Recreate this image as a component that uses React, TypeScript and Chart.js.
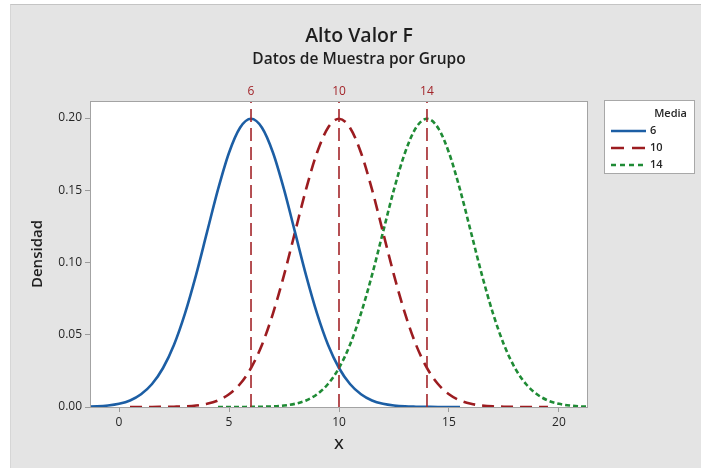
import React, { useEffect, useRef } from "react";
import { Chart, registerables } from "chart.js";

Chart.register(...registerables);

// ---------- data ----------
const chartTitle = "Alto Valor F";
const chartSubtitle = "Datos de Muestra por Grupo";
const xAxisTitle = "X";
const yAxisTitle = "Densidad";
const legendTitle = "Media";
const seriesLabels = ["6", "10", "14"];

const blueX = [-1.5, -1, -0.5, 0, 0.5, 1, 1.5, 2, 2.5, 3, 3.5, 4, 4.5, 5, 5.5, 6, 6.5, 7, 7.5, 8, 8.5, 9, 9.5, 10, 10.5, 11, 11.5, 12, 12.5, 13, 13.5, 14, 14.5, 15, 15.5];
const blueY = [0.0002, 0.0004, 0.001, 0.0022, 0.0045, 0.0088, 0.0159, 0.027, 0.0431, 0.0648, 0.0913, 0.121, 0.1506, 0.176, 0.1933, 0.1995, 0.1933, 0.176, 0.1506, 0.121, 0.0913, 0.0648, 0.0431, 0.027, 0.0159, 0.0088, 0.0045, 0.0022, 0.001, 0.0004, 0.0002, 0.0001, 0, 0, 0];

const redX = [0.5, 1, 1.5, 2, 2.5, 3, 3.5, 4, 4.5, 5, 5.5, 6, 6.5, 7, 7.5, 8, 8.5, 9, 9.5, 10, 10.5, 11, 11.5, 12, 12.5, 13, 13.5, 14, 14.5, 15, 15.5, 16, 16.5, 17, 17.5, 18, 18.5, 19, 19.5];
const redY = [0, 0, 0, 0.0001, 0.0002, 0.0004, 0.001, 0.0022, 0.0045, 0.0088, 0.0159, 0.027, 0.0431, 0.0648, 0.0913, 0.121, 0.1506, 0.176, 0.1933, 0.1995, 0.1933, 0.176, 0.1506, 0.121, 0.0913, 0.0648, 0.0431, 0.027, 0.0159, 0.0088, 0.0045, 0.0022, 0.001, 0.0004, 0.0002, 0.0001, 0, 0, 0];

const greenX = [4.5, 5, 5.5, 6, 6.5, 7, 7.5, 8, 8.5, 9, 9.5, 10, 10.5, 11, 11.5, 12, 12.5, 13, 13.5, 14, 14.5, 15, 15.5, 16, 16.5, 17, 17.5, 18, 18.5, 19, 19.5, 20, 20.5, 21, 21.5];
const greenY = [0, 0, 0, 0.0001, 0.0002, 0.0004, 0.001, 0.0022, 0.0045, 0.0088, 0.0159, 0.027, 0.0431, 0.0648, 0.0913, 0.121, 0.1506, 0.176, 0.1933, 0.1995, 0.1933, 0.176, 0.1506, 0.121, 0.0913, 0.0648, 0.0431, 0.027, 0.0159, 0.0088, 0.0045, 0.0022, 0.001, 0.0004, 0.0002];

const refLines = [6, 10, 14];
const xTicks = [0, 5, 10, 15, 20];
const yTicks = [0, 0.05, 0.1, 0.15, 0.2];
const xMin = -1.32;
const xMax = 21.32;
const yMin = 0;
const yMax = 0.2118;

// ---------- styles ----------
const BLUE = "#1c5ea4";
const RED = "#9c1c20";
const GREEN = "#1f8b35";
const REF = "#a3252a";
const FONT = "'Open Sans', 'Noto Sans', sans-serif";
const TXT = "#262626";

const pts = (xs: number[], ys: number[]) => xs.map((x, i) => ({ x, y: ys[i] }));

const decorPlugin = {
  id: "decor",
  beforeDraw(chart: any) {
    const { ctx, chartArea: a } = chart;
    ctx.save();
    ctx.fillStyle = "#ffffff";
    ctx.fillRect(a.left, a.top, a.right - a.left, a.bottom - a.top);
    ctx.restore();
  },
  afterDraw(chart: any) {
    const { ctx, chartArea: a } = chart;
    ctx.save();
    // plot border
    ctx.strokeStyle = "#a3a3a3";
    ctx.lineWidth = 1;
    ctx.strokeRect(a.left + 0.5, a.top + 0.5, a.right - a.left - 1, a.bottom - a.top);

    // titles (centered on the whole figure)
    const cx = 359;
    ctx.fillStyle = "#1e1e1e";
    ctx.textAlign = "center";
    ctx.textBaseline = "middle";
    ctx.font = `600 19.5px ${FONT}`;
    ctx.fillText(chartTitle, cx, 36);
    ctx.font = `600 15.5px ${FONT}`;
    ctx.fillText(chartSubtitle, cx, 60);

    // legend
    const lx = a.right + 16;
    const ly = a.top - 1;
    const lw = 91;
    const lh = 74;
    ctx.fillStyle = "#ffffff";
    ctx.fillRect(lx, ly, lw, lh);
    ctx.strokeStyle = "#a8a8a8";
    ctx.strokeRect(lx + 0.5, ly + 0.5, lw - 1, lh - 1);
    ctx.fillStyle = TXT;
    ctx.textAlign = "right";
    ctx.font = `600 11px ${FONT}`;
    ctx.fillText(legendTitle, lx + lw - 8, ly + 14);
    const ds = chart.data.datasets.slice(0, 3);
    ds.forEach((d: any, i: number) => {
      const y = ly + 31 + i * 17;
      ctx.beginPath();
      ctx.strokeStyle = d.borderColor;
      ctx.lineWidth = 2.5;
      ctx.setLineDash(d.legendDash || []);
      ctx.lineDashOffset = 0;
      ctx.moveTo(lx + 7, y);
      ctx.lineTo(lx + 42, y);
      ctx.stroke();
      ctx.setLineDash([]);
      ctx.fillStyle = TXT;
      ctx.textAlign = "left";
      ctx.font = `600 11px ${FONT}`;
      ctx.fillText(d.label, lx + 46, y);
    });
    ctx.restore();
  },
};

export default function App() {
  const ref = useRef<HTMLCanvasElement | null>(null);

  useEffect(() => {
    if (!ref.current) return;
    const refDatasets = refLines.map((v) => ({
      label: "ref" + v,
      data: [
        { x: v, y: yMin },
        { x: v, y: yMax },
      ],
      borderColor: REF,
      borderWidth: 1.6,
      borderDash: [13, 6],
      pointRadius: 0,
      fill: false,
      order: 0,
    }));
    const chart = new Chart(ref.current, {
      type: "line",
      data: {
        datasets: [
          {
            label: seriesLabels[0],
            data: pts(blueX, blueY),
            borderColor: BLUE,
            borderWidth: 2.6,
            pointRadius: 0,
            cubicInterpolationMode: "monotone",
            fill: false,
            order: 1,
            legendDash: [],
          } as any,
          {
            label: seriesLabels[1],
            data: pts(redX, redY),
            borderColor: RED,
            borderWidth: 2.6,
            borderDash: [12, 7],
            pointRadius: 0,
            cubicInterpolationMode: "monotone",
            fill: false,
            order: 1,
            legendDash: [13, 8],
          } as any,
          {
            label: seriesLabels[2],
            data: pts(greenX, greenY),
            borderColor: GREEN,
            borderWidth: 2.6,
            borderDash: [5, 3],
            pointRadius: 0,
            cubicInterpolationMode: "monotone",
            fill: false,
            order: 1,
            legendDash: [5, 4],
          } as any,
          ...refDatasets,
        ],
      },
      options: {
        responsive: false,
        animation: false,
        events: [],
        layout: { padding: { left: 0, right: 113, top: 0, bottom: 0 } },
        plugins: {
          legend: { display: false },
          title: { display: false },
          tooltip: { enabled: false },
        },
        scales: {
          x: {
            type: "linear",
            position: "bottom",
            min: xMin,
            max: xMax,
            afterBuildTicks: (s: any) => {
              s.ticks = xTicks.map((v) => ({ value: v }));
            },
            afterFit: (s: any) => {
              s.height = 61;
            },
            ticks: {
              color: TXT,
              font: { family: FONT, size: 12 },
              padding: 3,
              maxRotation: 0,
              callback: (v: any) => String(v),
            },
            grid: { drawOnChartArea: false, tickLength: 5, color: "#9a9a9a" },
            border: { display: false },
            title: {
              display: true,
              text: xAxisTitle,
              color: "#1e1e1e",
              font: { family: FONT, size: 15, weight: "600" },
              padding: { top: 0, bottom: 14 },
            },
          },
          x2: {
            type: "linear",
            position: "top",
            min: xMin,
            max: xMax,
            afterBuildTicks: (s: any) => {
              s.ticks = refLines.map((v) => ({ value: v }));
            },
            afterFit: (s: any) => {
              s.height = 101;
            },
            ticks: {
              color: REF,
              font: { family: FONT, size: 12 },
              padding: 2,
              maxRotation: 0,
              callback: (v: any) => String(v),
            },
            grid: { display: false, drawTicks: false },
            border: { display: false },
          },
          y: {
            type: "linear",
            min: yMin,
            max: yMax,
            afterBuildTicks: (s: any) => {
              s.ticks = yTicks.map((v) => ({ value: v }));
            },
            afterFit: (s: any) => {
              s.width = 90;
            },
            ticks: {
              color: TXT,
              font: { family: FONT, size: 12 },
              padding: 3,
              callback: (v: any) => Number(v).toFixed(2),
            },
            grid: { drawOnChartArea: false, tickLength: 5, color: "#9a9a9a" },
            border: { display: false },
            title: {
              display: true,
              text: yAxisTitle,
              color: "#1e1e1e",
              font: { family: FONT, size: 15, weight: "600" },
              padding: { top: 29, bottom: 0 },
            },
          },
        },
      },
      plugins: [decorPlugin],
    } as any);
    return () => chart.destroy();
  }, []);

  return (
    <div
      style={{
        position: "fixed",
        left: 0,
        top: 0,
        width: 701,
        height: 468,
        background: "#ffffff",
        overflow: "hidden",
      }}
    >
      <div
        style={{
          position: "absolute",
          left: 10,
          top: 4,
          right: 0,
          bottom: 0,
          background: "#e4e4e4",
          borderTop: "1px solid #c4c4c4",
          borderLeft: "1px solid #d6d6d6",
        }}
      />
      <canvas
        ref={ref}
        width={701}
        height={468}
        style={{ position: "absolute", left: 0, top: 0, display: "block" }}
      />
    </div>
  );
}
